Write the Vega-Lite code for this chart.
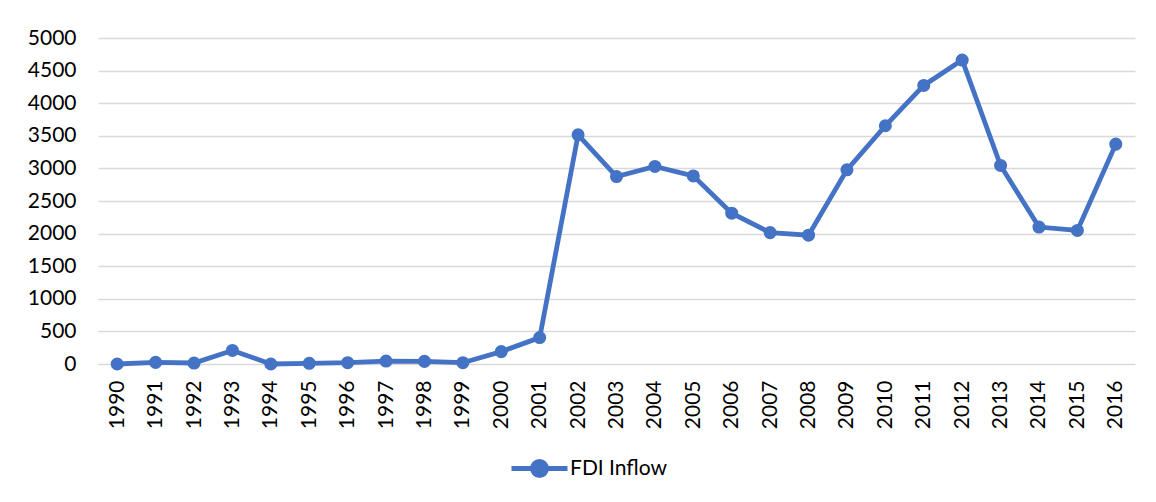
{
  "$schema": "https://vega.github.io/schema/vega-lite/v6.json",
  "autosize": "none",
  "width": 1037,
  "height": 326,
  "padding": {"left": 98, "top": 38, "right": 21, "bottom": 138},
  "background": "white",
  "config": {
    "font": "Lato",
    "view": {"stroke": null}
  },
  "data": {
    "values": [
      {"year": "1990", "series": "FDI Inflow", "value": 0},
      {"year": "1991", "series": "FDI Inflow", "value": 25},
      {"year": "1992", "series": "FDI Inflow", "value": 15},
      {"year": "1993", "series": "FDI Inflow", "value": 208},
      {"year": "1994", "series": "FDI Inflow", "value": 0},
      {"year": "1995", "series": "FDI Inflow", "value": 10},
      {"year": "1996", "series": "FDI Inflow", "value": 20},
      {"year": "1997", "series": "FDI Inflow", "value": 45},
      {"year": "1998", "series": "FDI Inflow", "value": 40},
      {"year": "1999", "series": "FDI Inflow", "value": 20},
      {"year": "2000", "series": "FDI Inflow", "value": 190},
      {"year": "2001", "series": "FDI Inflow", "value": 405},
      {"year": "2002", "series": "FDI Inflow", "value": 3515},
      {"year": "2003", "series": "FDI Inflow", "value": 2875},
      {"year": "2004", "series": "FDI Inflow", "value": 3030},
      {"year": "2005", "series": "FDI Inflow", "value": 2885},
      {"year": "2006", "series": "FDI Inflow", "value": 2313},
      {"year": "2007", "series": "FDI Inflow", "value": 2015},
      {"year": "2008", "series": "FDI Inflow", "value": 1975},
      {"year": "2009", "series": "FDI Inflow", "value": 2978},
      {"year": "2010", "series": "FDI Inflow", "value": 3654},
      {"year": "2011", "series": "FDI Inflow", "value": 4272},
      {"year": "2012", "series": "FDI Inflow", "value": 4662},
      {"year": "2013", "series": "FDI Inflow", "value": 3045},
      {"year": "2014", "series": "FDI Inflow", "value": 2100},
      {"year": "2015", "series": "FDI Inflow", "value": 2048},
      {"year": "2016", "series": "FDI Inflow", "value": 3372}
    ]
  },
  "encoding": {
    "x": {
      "field": "year",
      "type": "ordinal",
      "scale": {"type": "point", "padding": 0.5},
      "axis": {
        "title": null,
        "labelAngle": -90,
        "labelAlign": "right",
        "labelBaseline": "middle",
        "labelFontSize": 21,
        "labelColor": "#000000",
        "labelPadding": 16,
        "ticks": false,
        "domain": false,
        "grid": false
      }
    },
    "y": {
      "field": "value",
      "type": "quantitative",
      "scale": {"domain": [0, 5000]},
      "axis": {
        "title": null,
        "format": "d",
        "values": [0, 500, 1000, 1500, 2000, 2500, 3000, 3500, 4000, 4500, 5000],
        "labelFontSize": 21,
        "labelColor": "#000000",
        "labelPadding": 22,
        "ticks": false,
        "domain": false,
        "grid": true,
        "gridColor": "#d9d9d9",
        "gridWidth": 1.3
      }
    },
    "color": {
      "field": "series",
      "type": "nominal",
      "scale": {"range": ["#4472C4"]},
      "legend": {
        "title": null,
        "orient": "none",
        "legendX": 429,
        "legendY": 418,
        "labelFontSize": 21,
        "labelColor": "#000000",
        "symbolType": "M-2.8,0H2.8M-0.7,0a0.7,0.7 0 1,0 1.4,0a0.7,0.7 0 1,0 -1.4,0",
        "symbolSize": 400,
        "symbolStrokeWidth": 4.8,
        "symbolFillColor": "#4472C4",
        "symbolStrokeColor": "#4472C4",
        "labelOffset": 18
      }
    }
  },
  "mark": {
    "type": "line",
    "strokeWidth": 4.8,
    "point": {"filled": true, "size": 170, "opacity": 1}
  }
}
